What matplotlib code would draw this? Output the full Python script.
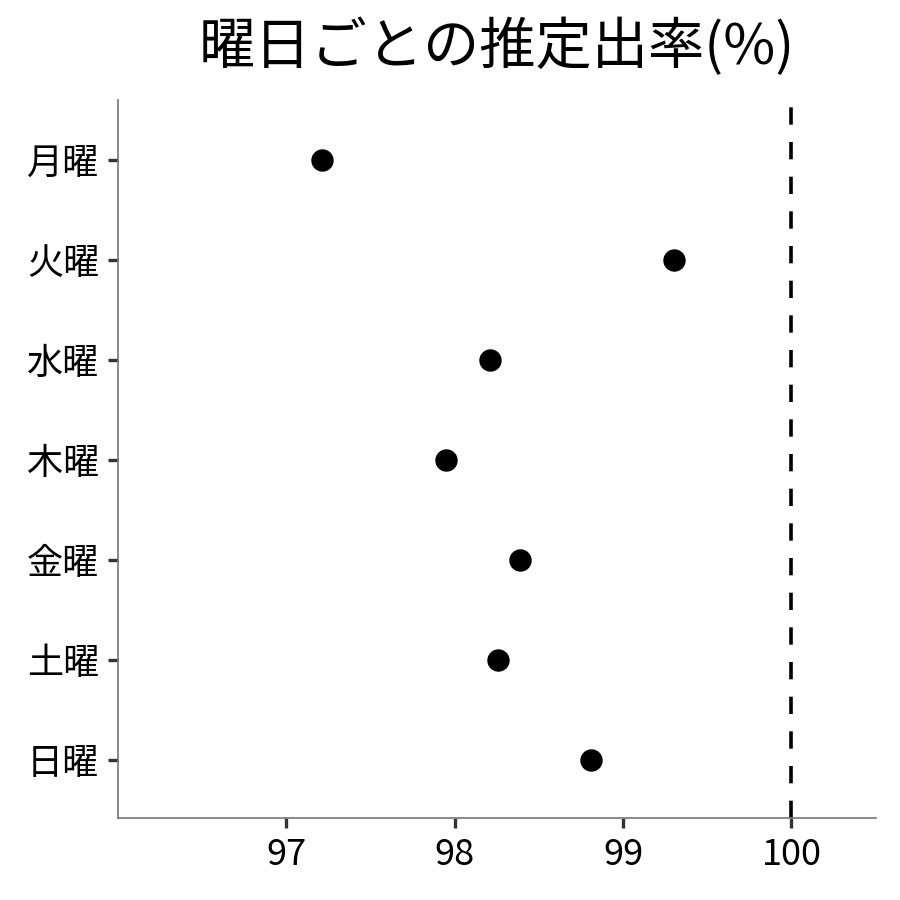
import matplotlib.pyplot as plt

plt.rcParams['font.family'] = ['Noto Sans CJK JP', 'DejaVu Sans']

# Data
days = ['月曜', '火曜', '水曜', '木曜', '金曜', '土曜', '日曜']
rates = [97.21, 99.30, 98.21, 97.95, 98.39, 98.26, 98.81]
ref_line = 100
x_ticks = [97, 98, 99, 100]

fig = plt.figure(figsize=(9, 9), dpi=100)
ax = fig.add_axes([0.131, 0.091, 0.842, 0.798])

ypos = list(range(len(days)))
ax.scatter(rates, ypos, s=260, color='black', zorder=3, linewidths=0)
ax.axvline(ref_line, color='black', linestyle=(0, (4.8, 4.8)), linewidth=2.6)

ax.set_xlim(96.0, 100.5)
ax.set_ylim(len(days) - 1 + 0.58, -0.6)
ax.set_yticks(ypos)
ax.set_yticklabels(days)
ax.set_xticks(x_ticks)
ax.set_xticklabels([str(t) for t in x_ticks])

for s in ['top', 'right']:
    ax.spines[s].set_visible(False)
for s in ['left', 'bottom']:
    ax.spines[s].set_color('#777777')
    ax.spines[s].set_linewidth(1.2)

ax.tick_params(axis='both', length=7.5, width=2.4, color='#333333',
               labelsize=26, labelcolor='black', pad=6)

ax.set_title('曜日ごとの推定出率(%)', fontsize=40.5, pad=26)

fig.savefig('out.png', dpi=100)
